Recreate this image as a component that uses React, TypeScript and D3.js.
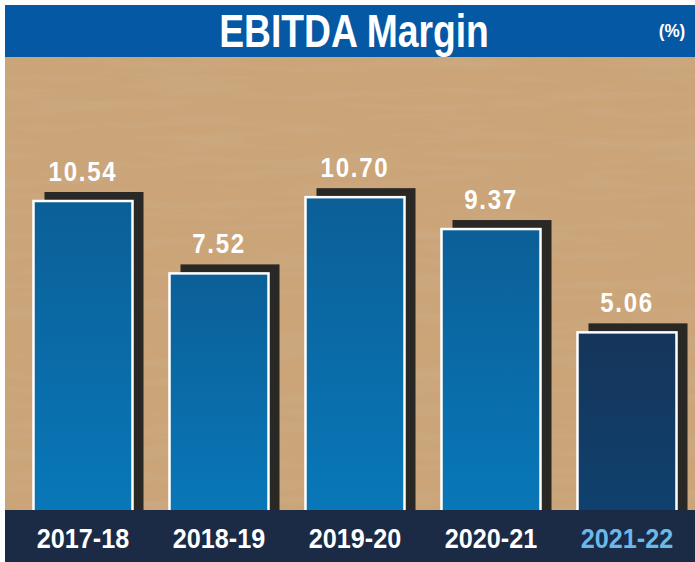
import React, { useMemo } from "react";
import * as d3 from "d3";

const WIDTH = 695;
const HEIGHT = 562;
const FRAME = { left: 5, top: 5, headerBottom: 57, plotBottom: 510 };
const FONT = "'Liberation Sans', Arial, sans-serif";

// chart data
const years = ["2017-18", "2018-19", "2019-20", "2020-21", "2021-22"];
const ebitdaMargin = [10.54, 7.52, 10.7, 9.37, 5.06];
const title = "EBITDA Margin";
const unitLabel = "(%)";
const highlightYear = "2021-22";

// bold text squeezed horizontally to look like a condensed face
const CondText = ({ x, y, size, squeeze, fill, spacing = 0, children }) => (
    <text
        transform={`translate(${x},${y}) scale(${squeeze},1)`}
        textAnchor="middle"
        fill={fill}
        fontFamily={FONT}
        fontWeight="bold"
        fontSize={size}
        letterSpacing={spacing}
    >
        {children}
    </text>
);

const App = () => {
    const rows = useMemo(
        () => years.map((year, i) => ({ year, value: ebitdaMargin[i] })),
        []
    );

    const xScale = useMemo(() => {
        return d3.scaleBand()
            .domain(years)
            .range([15, WIDTH])
            .paddingInner(0.272)
            .paddingOuter(0.136);
    }, []);

    // the bars don't start from zero in the original artwork
    const yScale = useMemo(() => {
        return d3.scaleLinear()
            .domain([-2.35, 12])
            .range([FRAME.plotBottom, FRAME.plotBottom - 344]);
    }, []);

    const bw = xScale.bandwidth();
    const plotW = WIDTH - FRAME.left;
    const plotH = FRAME.plotBottom - FRAME.headerBottom;

    return (
        <svg
            width={WIDTH}
            height={HEIGHT}
            style={{ position: "absolute", left: 0, top: 0, display: "block" }}
        >
            <defs>
                <linearGradient id="barBlue" x1="0" y1="0" x2="0" y2="1">
                    <stop offset="0%" stopColor="#0c5f97" />
                    <stop offset="100%" stopColor="#0878b9" />
                </linearGradient>
                <linearGradient id="barNavy" x1="0" y1="0" x2="0" y2="1">
                    <stop offset="0%" stopColor="#16355a" />
                    <stop offset="100%" stopColor="#0f416f" />
                </linearGradient>
                <filter id="wood" x="0" y="0" width="100%" height="100%">
                    <feTurbulence type="fractalNoise" baseFrequency="0.008 0.1" numOctaves="3" seed="7" result="noise" />
                    <feColorMatrix
                        in="noise"
                        type="matrix"
                        values="0 0 0 0 0.62  0 0 0 0 0.46  0 0 0 0 0.30  0 0 0 1.2 -0.45"
                    />
                </filter>
            </defs>

            <rect width={WIDTH} height={HEIGHT} fill="#ffffff" />

            {/* wood background */}
            <rect x={FRAME.left} y={FRAME.headerBottom} width={plotW} height={plotH} fill="#cba478" />
            <rect
                x={FRAME.left}
                y={FRAME.headerBottom}
                width={plotW}
                height={plotH}
                fill="#cba478"
                filter="url(#wood)"
                opacity={0.5}
            />

            {/* header */}
            <rect
                x={FRAME.left}
                y={FRAME.top}
                width={plotW}
                height={FRAME.headerBottom - FRAME.top}
                fill="#0558a4"
            />
            <CondText x={354} y={47} size={46} squeeze={0.81} fill="#ffffff">
                {title}
            </CondText>
            <CondText x={672} y={37} size={19} squeeze={0.9} fill="#ffffff">
                {unitLabel}
            </CondText>

            {/* bars */}
            {rows.map((d) => {
                const x = xScale(d.year) ?? 0;
                const y = yScale(d.value);
                const isLast = d.year === highlightYear;
                return (
                    <g key={d.year}>
                        <rect
                            x={x + 11}
                            y={y - 9}
                            width={bw}
                            height={FRAME.plotBottom - y + 9}
                            fill="#2a2825"
                        />
                        <rect
                            x={x}
                            y={y}
                            width={bw}
                            height={FRAME.plotBottom - y + 5}
                            fill={isLast ? "url(#barNavy)" : "url(#barBlue)"}
                            stroke="#ffffff"
                            strokeWidth={2.5}
                        />
                        <CondText x={x + bw / 2} y={y - 20} size={28} squeeze={0.86} spacing={2} fill="#ffffff">
                            {d.value.toFixed(2)}
                        </CondText>
                    </g>
                );
            })}

            {/* category band */}
            <rect
                x={FRAME.left}
                y={FRAME.plotBottom}
                width={plotW}
                height={HEIGHT - FRAME.plotBottom}
                fill="#1b2a45"
            />
            {rows.map((d) => (
                <CondText
                    key={"lbl" + d.year}
                    x={(xScale(d.year) ?? 0) + bw / 2}
                    y={548}
                    size={28}
                    squeeze={0.9}
                    fill={d.year === highlightYear ? "#6bb9e9" : "#ffffff"}
                >
                    {d.year}
                </CondText>
            ))}
        </svg>
    );
};

export default App;
